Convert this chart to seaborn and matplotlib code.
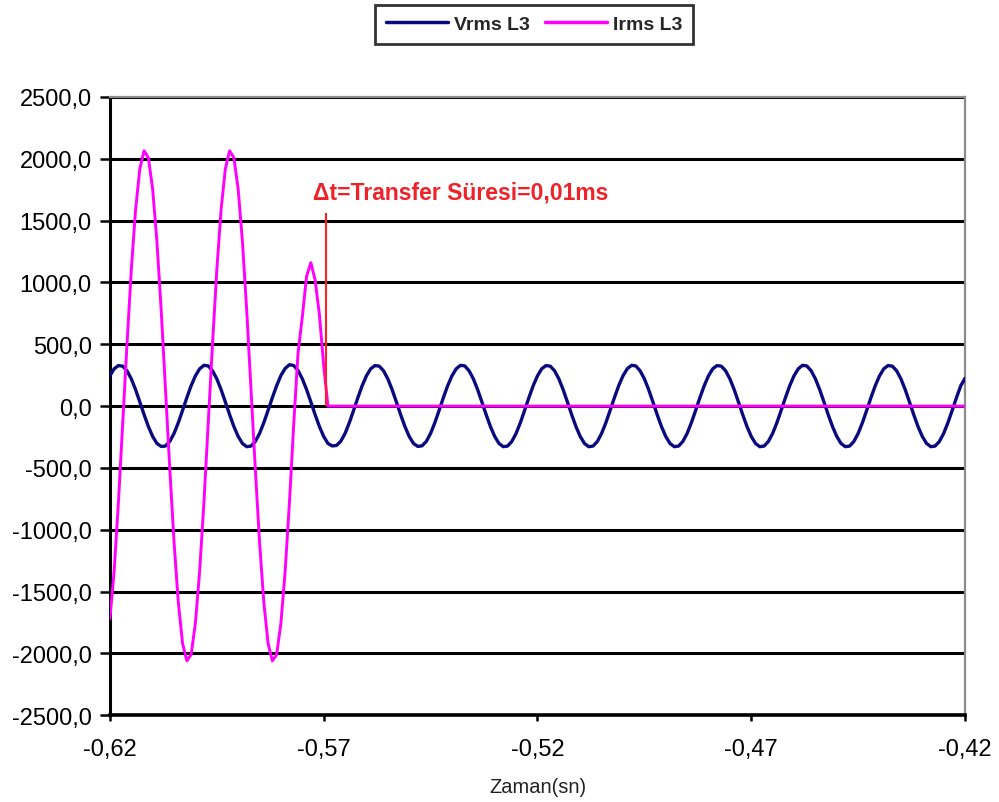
"""Vrms / Irms L3 transfer waveform chart."""

import numpy as np
import pandas as pd
import seaborn as sns
import matplotlib
matplotlib.use("Agg")
import matplotlib.pyplot as plt
from matplotlib.lines import Line2D

# sample times: 1 ms steps from -0.62 s to -0.42 s
time_s = np.round(np.linspace(-0.62, -0.42, 201), 3)

# voltage samples (one 20 ms cycle per row)
vrms_l3 = [
    245, 302, 328, 323, 286, 221, 134, 34, -69, -165, -245, -302, -326, -323, -286, -221, -134, -34, 69, 165,
    245, 302, 330, 325, 286, 221, 134, 34, -69, -165, -245, -302, -328, -323, -286, -221, -134, -34, 69, 165,
    248, 305, 335, 328, 288, 221, 134, 34, -69, -165, -245, -302, -322, -318, -284, -221, -134, -34, 69, 165,
    245, 302, 328, 323, 286, 221, 134, 34, -69, -165, -245, -302, -326, -321, -286, -221, -134, -34, 69, 165,
    245, 302, 330, 325, 286, 221, 134, 34, -69, -165, -245, -302, -328, -323, -286, -221, -134, -34, 69, 165,
    245, 302, 328, 323, 286, 221, 134, 34, -69, -165, -245, -302, -328, -323, -286, -221, -134, -34, 69, 165,
    245, 302, 330, 325, 286, 221, 134, 34, -69, -165, -245, -302, -328, -323, -286, -221, -134, -34, 69, 165,
    245, 302, 328, 323, 286, 221, 134, 34, -69, -165, -245, -302, -328, -323, -286, -221, -134, -34, 69, 165,
    245, 302, 330, 325, 286, 221, 134, 34, -69, -165, -245, -302, -328, -323, -286, -221, -134, -34, 69, 165,
    245, 302, 328, 323, 286, 221, 134, 34, -69, -165, -245, -302, -328, -323, -286, -221, -134, -34, 69, 165,
    225,
]

# current samples; zero after the transfer
irms_l3 = [
    -1720, -1331, -775, -144, 501, 1097, 1586, 1919, 2065, 2009, 1755, 1331, 775, 144, -501, -1097, -1586, -1919, -2060, -2009,
    -1755, -1331, -775, -144, 501, 1097, 1586, 1919, 2065, 2009, 1755, 1331, 775, 144, -501, -1097, -1586, -1919, -2060, -2009,
    -1755, -1331, -775, -144, 430, 720, 1050, 1160, 1020, 740, 330,
] + [0] * 150

y_ticks = [-2500, -2000, -1500, -1000, -500, 0, 500, 1000, 1500, 2000, 2500]
x_ticks = [-0.62, -0.57, -0.52, -0.47, -0.42]

transfer_t = -0.5694
transfer_top = 1560
transfer_text = "\u0394t=Transfer Süresi=0,01ms"

df = pd.DataFrame({"t": time_s, "Vrms L3": vrms_l3, "Irms L3": irms_l3})

sns.set_theme(style="white")
plt.rcParams["font.family"] = ["Liberation Sans", "DejaVu Sans"]

fig = plt.figure(figsize=(9.99, 8.03), dpi=100)
ax = fig.add_axes([0.110, 0.108, 0.856, 0.770])

ax.set_axisbelow(True)
ax.yaxis.grid(True, color="black", linewidth=2.2)

sns.lineplot(data=df, x="t", y="Vrms L3", ax=ax, color="#0a0a80",
             linewidth=2.4, estimator=None, zorder=3)
sns.lineplot(data=df, x="t", y="Irms L3", ax=ax, color="#ff00ff",
             linewidth=2.1, estimator=None, zorder=4)

# transfer marker
ax.vlines(transfer_t, 0, transfer_top, color="#ff2020", linewidth=1.5, zorder=5)
ax.text(-0.5725, 1730, transfer_text, color="#ee2228", fontsize=16.5,
        fontweight="bold", va="center", ha="left")

ax.set_xlim(-0.62, -0.42)
ax.set_ylim(-2500, 2500)
ax.set_xticks(x_ticks)
ax.set_xticklabels([f"{v:.2f}".replace(".", ",") for v in x_ticks])
ax.set_yticks(y_ticks)
ax.set_yticklabels([f"{v:.1f}".replace(".", ",") for v in y_ticks])
ax.tick_params(axis="y", direction="out", length=7, width=1.8, pad=6,
               labelsize=17, left=True, colors="black")
ax.tick_params(axis="x", direction="out", length=4.5, width=1.8, pad=12,
               labelsize=17, bottom=True, colors="black")
ax.set_xlabel("Zaman(sn)", fontsize=14.5, labelpad=12, color="#222222")
ax.set_ylabel("")

ax.spines["left"].set_color("black")
ax.spines["left"].set_linewidth(2.2)
ax.spines["bottom"].set_color("black")
ax.spines["bottom"].set_linewidth(2.6)
for side in ("top", "right"):
    ax.spines[side].set_color("#8c8c8c")
    ax.spines[side].set_linewidth(1.6)

handles = [Line2D([], [], color="#0a0a80", linewidth=2.5),
           Line2D([], [], color="#ff00ff", linewidth=2.5)]
leg = fig.legend(handles, ["Vrms L3", "Irms L3"], loc="center",
                 bbox_to_anchor=(534 / 999, 1 - 25 / 803), ncol=2,
                 frameon=True, fancybox=False, handlelength=3.2,
                 handletextpad=0.3, columnspacing=0.8, borderpad=0.55,
                 prop={"weight": "bold", "size": 14})
leg.get_frame().set_edgecolor("black")
leg.get_frame().set_linewidth(2)

fig.savefig("out.png", dpi=100)
